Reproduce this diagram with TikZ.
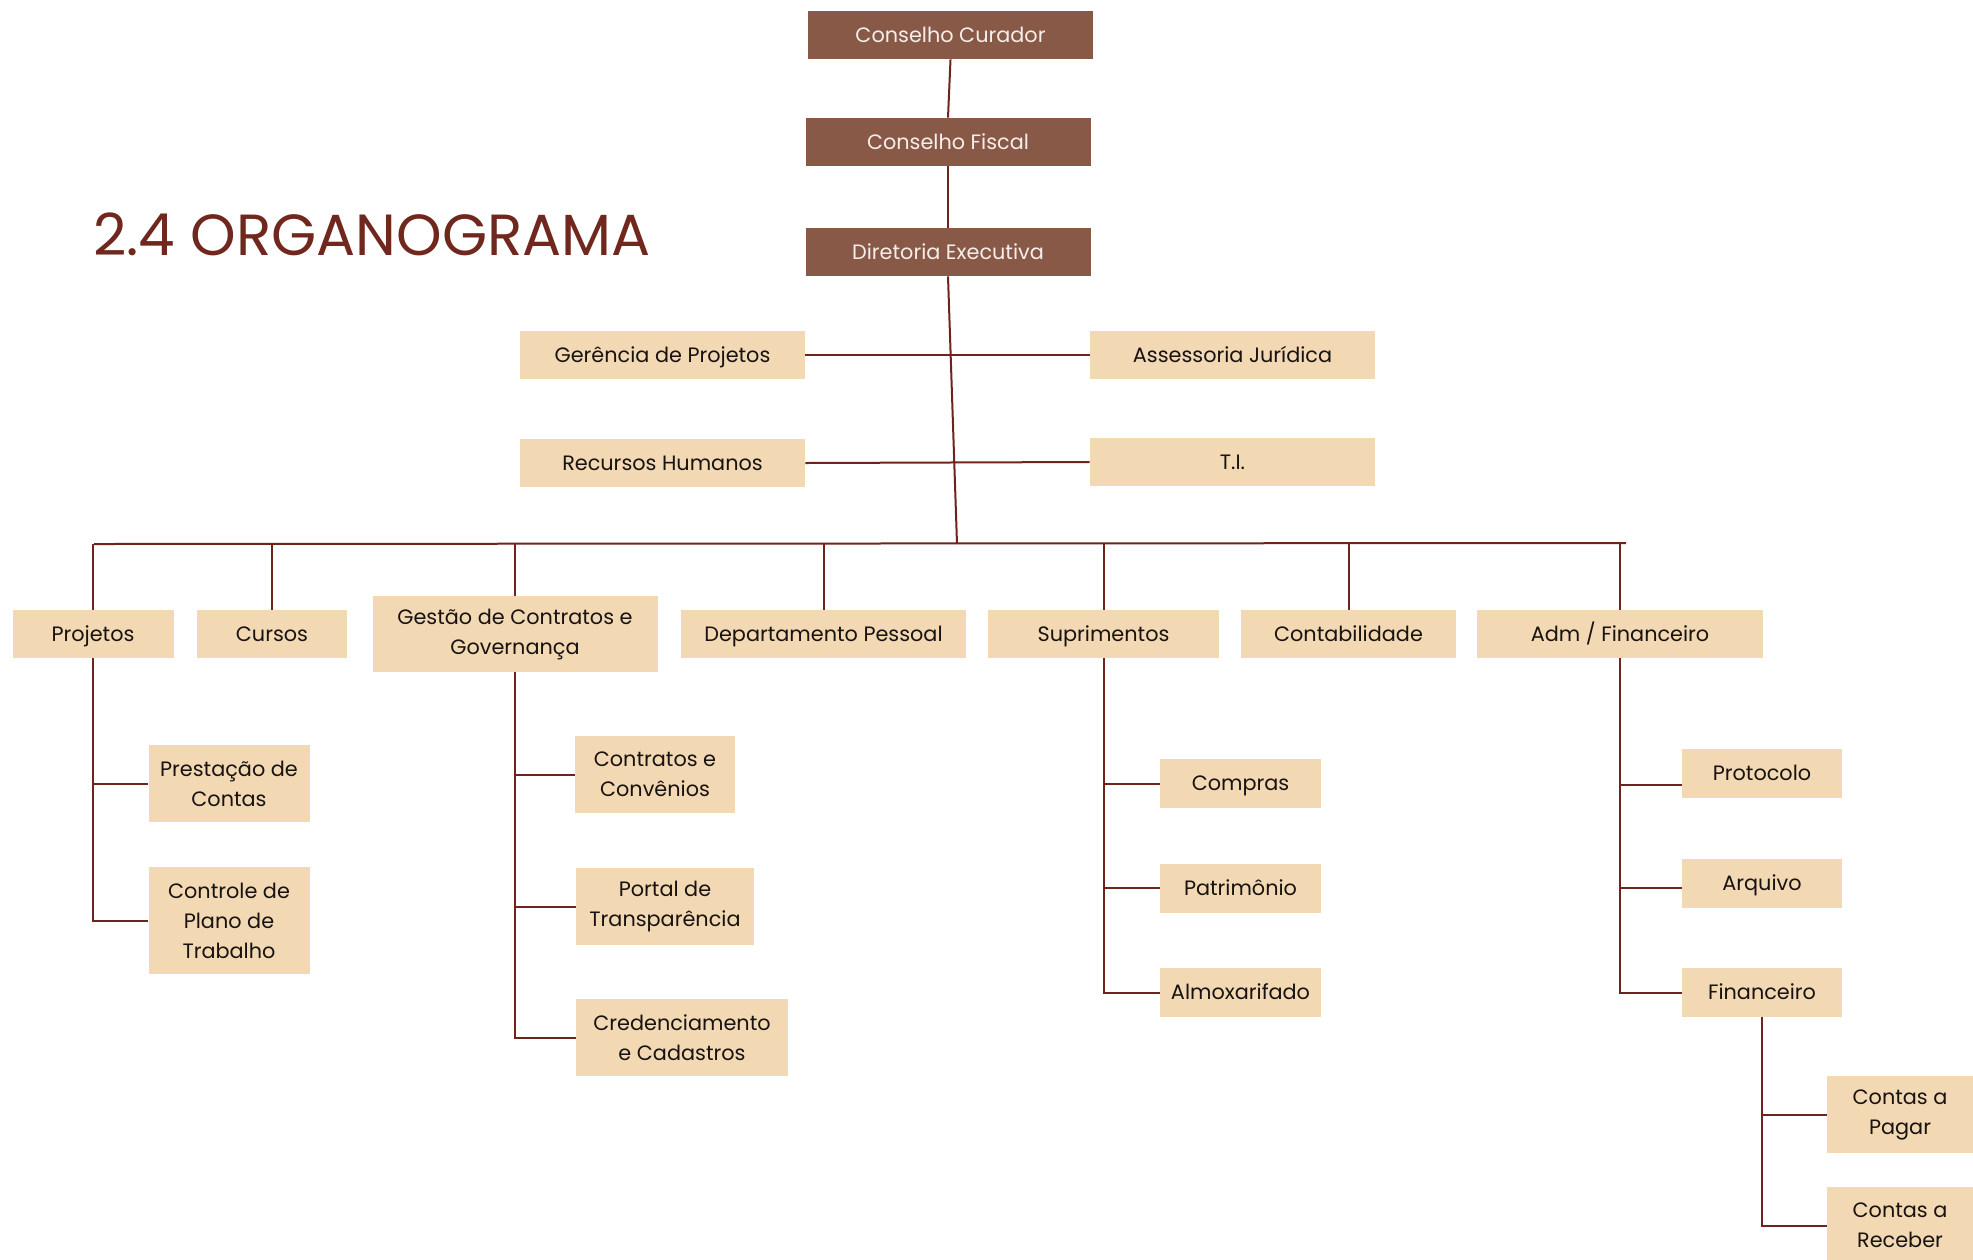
\documentclass[tikz,border=0pt]{standalone}
\usepackage{fontspec}
\setmainfont{Poppins}
\usetikzlibrary{calc}
\definecolor{darkbox}{RGB}{137,89,71}
\definecolor{lightbox}{RGB}{242,217,180}
\definecolor{linec}{RGB}{110,36,28}
\definecolor{titlec}{RGB}{112,40,30}
\definecolor{darktxt}{RGB}{246,238,234}
\definecolor{lighttxt}{RGB}{24,18,16}
\tikzset{
  basebox/.style={inner sep=0pt, align=center,
    minimum width=142.5pt, minimum height=24pt, font=\fontsize{10.4}{15}\selectfont},
  dbox/.style={basebox, fill=darkbox, text=darktxt, text height=9pt, text depth=1.8pt},
  lbox/.style={basebox, fill=lightbox, text=lighttxt, text height=9pt, text depth=1.8pt},
  mbox/.style={basebox, fill=lightbox, text=lighttxt},
  conn/.style={draw=linec, line width=1pt},
}
\begin{document}
\begin{tikzpicture}[x=0.5pt,y=-0.5pt]
\useasboundingbox (0,0) rectangle (1973,1259);
\fill[white] (0,0) rectangle (1973,1259);

% title
\node[anchor=base west, inner sep=0pt, text=titlec, font=\fontsize{29}{36}\selectfont] (title) at (93,255) {2.4 ORGANOGRAMA};

% top
\node[dbox] (cc) at (950.5,35) {Conselho Curador};
\node[dbox] (cf) at (948,142) {Conselho Fiscal};
\node[dbox] (de) at (948,252) {Diretoria Executiva};

\node[lbox] (ger) at (662.5,355) {Gerência de Projetos};
\node[lbox] (ass) at (1232.5,355) {Assessoria Jurídica};
\node[lbox] (rh) at (662.5,463) {Recursos Humanos};
\node[lbox] (ti) at (1232.5,462) {T.I.};

% departments
\node[lbox, minimum width=80.5pt] (proj) at (93,634) {Projetos};
\node[lbox, minimum width=75pt] (cur) at (272,634) {Cursos};
\node[mbox, minimum height=38pt] (ges) at (515,634) {Gestão de Contratos e\\Governança};
\node[lbox] (dp) at (823.5,634) {Departamento Pessoal};
\node[lbox, minimum width=115.5pt] (sup) at (1103.5,634) {Suprimentos};
\node[lbox, minimum width=107.5pt] (cont) at (1348.5,634) {Contabilidade};
\node[lbox, minimum width=143pt] (adm) at (1620,634) {Adm / Financeiro};

% Projetos subtree
\node[mbox, minimum width=80.5pt, minimum height=38.5pt] (prest) at (229,783.5) {Prestação de\\Contas};
\node[mbox, minimum width=80.5pt, minimum height=53.5pt] (ctrl) at (229,920.5) {Controle de\\Plano de\\Trabalho};

% Gestao subtree
\node[mbox, minimum width=80pt, minimum height=38.5pt] (contr) at (655,774.5) {Contratos e\\Convênios};
\node[mbox, minimum width=89pt, minimum height=38.5pt] (portal) at (665,906.5) {Portal de\\Transparência};
\node[mbox, minimum width=106pt, minimum height=38.5pt] (cred) at (682,1037.5) {Credenciamento\\e Cadastros};

% Suprimentos subtree
\node[lbox, minimum width=80.5pt, minimum height=24.5pt] (comp) at (1240.5,783.5) {Compras};
\node[lbox, minimum width=80.5pt, minimum height=24.5pt] (patr) at (1240.5,888) {Patrimônio};
\node[lbox, minimum width=80.5pt, minimum height=24.5pt] (almox) at (1240.5,992.5) {Almoxarifado};

% Adm subtree
\node[lbox, minimum width=80pt, minimum height=24.5pt] (prot) at (1762,773.5) {Protocolo};
\node[lbox, minimum width=80pt, minimum height=24.5pt] (arq) at (1762,883.5) {Arquivo};
\node[lbox, minimum width=80pt, minimum height=24.5pt] (fin) at (1762,992.5) {Financeiro};
\node[mbox, minimum width=73pt, minimum height=38.5pt] (pag) at (1900,1114.5) {Contas a\\Pagar};
\node[mbox, minimum width=73pt, minimum height=38.5pt] (rec) at (1900,1225.5) {Contas a\\Receber};

% connectors top
\draw[conn] (cc.south) -- (cf.north);
\draw[conn] (cf.south) -- (de.north);
\coordinate (bus) at (957,544);
\coordinate (busL) at (94,544);
\coordinate (busR) at (1626,543);
\draw[conn] (de.south) -- (bus);
\draw[conn] (ger.east) -- (ass.west);
\draw[conn] (rh.east) -- (ti.west);
\draw[conn] (busL) -- (busR);

% verticals to departments
\foreach \n in {proj,cur,ges,dp,sup,cont,adm}
  \draw[conn] (\n.north) -- (\n.north |- busL);

% Projetos
\draw[conn] (proj.south) -- (proj.south |- ctrl.west) -- (ctrl.west);
\draw[conn] (proj.south |- prest.west) -- (prest.west);
% Gestao
\draw[conn] (ges.south) -- (ges.south |- cred.west) -- (cred.west);
\draw[conn] (ges.south |- contr.west) -- (contr.west);
\draw[conn] (ges.south |- portal.west) -- (portal.west);
% Suprimentos
\draw[conn] (sup.south) -- (sup.south |- almox.west) -- (almox.west);
\draw[conn] (sup.south |- comp.west) -- (comp.west);
\draw[conn] (sup.south |- patr.west) -- (patr.west);
% Adm
\draw[conn] (adm.south) -- (adm.south |- fin.west) -- (fin.west);
\draw[conn] ([yshift=-5.5pt]adm.south |- prot.west) -- ([yshift=-5.5pt]prot.west);
\draw[conn] ([yshift=-2pt]adm.south |- arq.west) -- ([yshift=-2pt]arq.west);
% Financeiro
\draw[conn] (fin.south) -- (fin.south |- rec.west) -- (rec.west);
\draw[conn] (fin.south |- pag.west) -- (pag.west);
\end{tikzpicture}
\end{document}
